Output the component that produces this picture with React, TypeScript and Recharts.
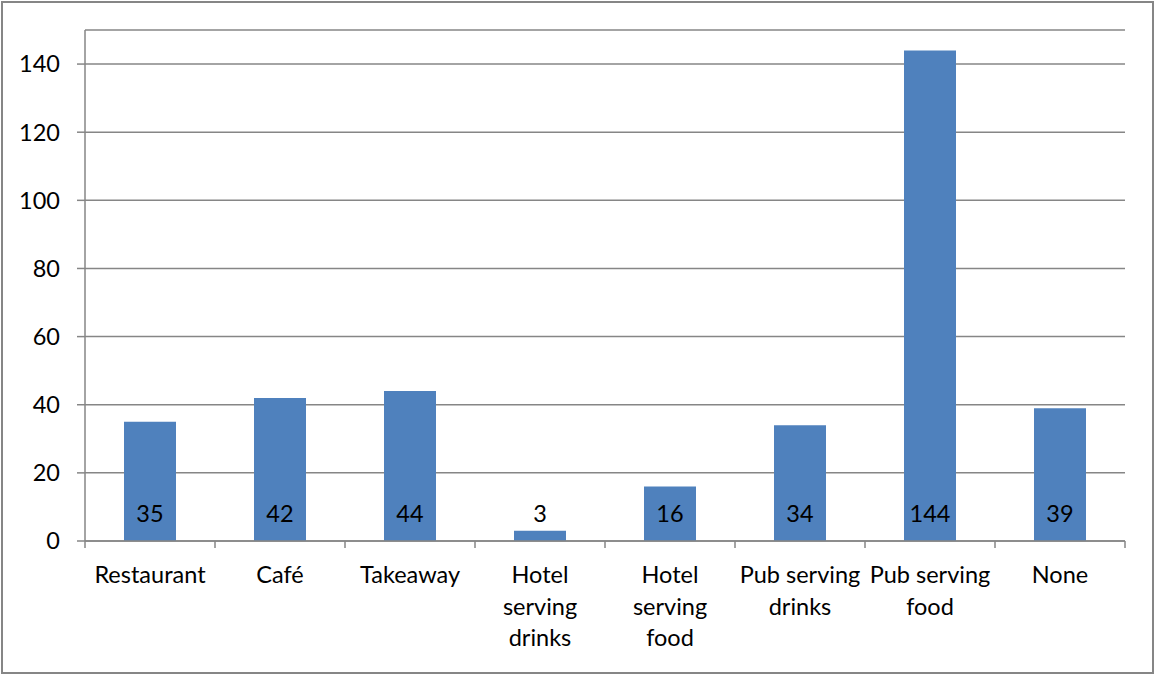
import { BarChart, Bar, XAxis, YAxis, CartesianGrid, LabelList } from 'recharts';

// Venue types and respondent counts
const categories = [
  'Restaurant',
  'Café',
  'Takeaway',
  'Hotel serving drinks',
  'Hotel serving food',
  'Pub serving drinks',
  'Pub serving food',
  'None',
];
const counts = [35, 42, 44, 3, 16, 34, 144, 39];

// How each category label breaks over lines under the axis
const categoryLines = [
  ['Restaurant'],
  ['Café'],
  ['Takeaway'],
  ['Hotel', 'serving', 'drinks'],
  ['Hotel', 'serving', 'food'],
  ['Pub serving', 'drinks'],
  ['Pub serving', 'food'],
  ['None'],
];
const yTicks = [0, 20, 40, 60, 80, 100, 120, 140];

const WIDTH = 1155;
const HEIGHT = 675;
const MARGIN = { top: 30, right: 30, left: 25, bottom: 24 };
const Y_AXIS_W = 60;
const X_AXIS_H = 110;
const PLOT_W = WIDTH - MARGIN.left - MARGIN.right - Y_AXIS_W;
const BAND = PLOT_W / categories.length;

const BAR_COLOR = '#4F81BD';
const AXIS_COLOR = '#868686';
const FONT = 'Lato, "Open Sans", sans-serif';
const FONT_SIZE = 23.5;

const data = categories.map((name, i) => ({ name, value: counts[i] }));

function CategoryTick(props: any) {
  const { x, y, index } = props;
  const lines: string[] = categoryLines[index] ?? [];
  const last = index === categories.length - 1;
  return (
    <g>
      <line x1={x - BAND / 2} x2={x - BAND / 2} y1={y} y2={y + 7} stroke={AXIS_COLOR} strokeWidth={1.5} />
      {last && (
        <line x1={x + BAND / 2} x2={x + BAND / 2} y1={y} y2={y + 7} stroke={AXIS_COLOR} strokeWidth={1.5} />
      )}
      {lines.map((ln, i) => (
        <text
          key={ln}
          x={x}
          y={y + 42 + i * 31.5}
          textAnchor="middle"
          fill="#000"
          fontFamily={FONT}
          fontSize={FONT_SIZE}
        >
          {ln}
        </text>
      ))}
    </g>
  );
}

export default function App() {
  return (
    <div style={{ position: 'fixed', left: 0, top: 0, width: WIDTH, height: HEIGHT, background: '#fff' }}>
      <div
        style={{
          position: 'absolute',
          left: 1,
          top: 1,
          width: WIDTH - 2,
          height: HEIGHT - 2,
          border: `2px solid ${AXIS_COLOR}`,
          boxSizing: 'border-box',
        }}
      />
      <div style={{ position: 'absolute', left: 0, top: 0 }}>
        <BarChart width={WIDTH} height={HEIGHT} data={data} margin={MARGIN} barCategoryGap="30%">
          <CartesianGrid vertical={false} stroke={AXIS_COLOR} strokeWidth={1.5} />
          <XAxis
            dataKey="name"
            height={X_AXIS_H}
            interval={0}
            tickLine={false}
            tickSize={0}
            tickMargin={0}
            axisLine={{ stroke: AXIS_COLOR, strokeWidth: 1.5 }}
            tick={<CategoryTick />}
          />
          <YAxis
            width={Y_AXIS_W}
            domain={[0, 150]}
            ticks={yTicks}
            interval={0}
            tickSize={8}
            tickMargin={17}
            tickLine={{ stroke: AXIS_COLOR, strokeWidth: 1.5 }}
            axisLine={{ stroke: AXIS_COLOR, strokeWidth: 1.5 }}
            tick={{ fill: '#000', fontFamily: FONT, fontSize: FONT_SIZE }}
          />
          <Bar dataKey="value" fill={BAR_COLOR} isAnimationActive={false}>
            <LabelList
              dataKey="value"
              position="insideBottom"
              offset={19}
              fill="#000"
              fontFamily={FONT}
              fontSize={FONT_SIZE}
            />
          </Bar>
        </BarChart>
      </div>
    </div>
  );
}
